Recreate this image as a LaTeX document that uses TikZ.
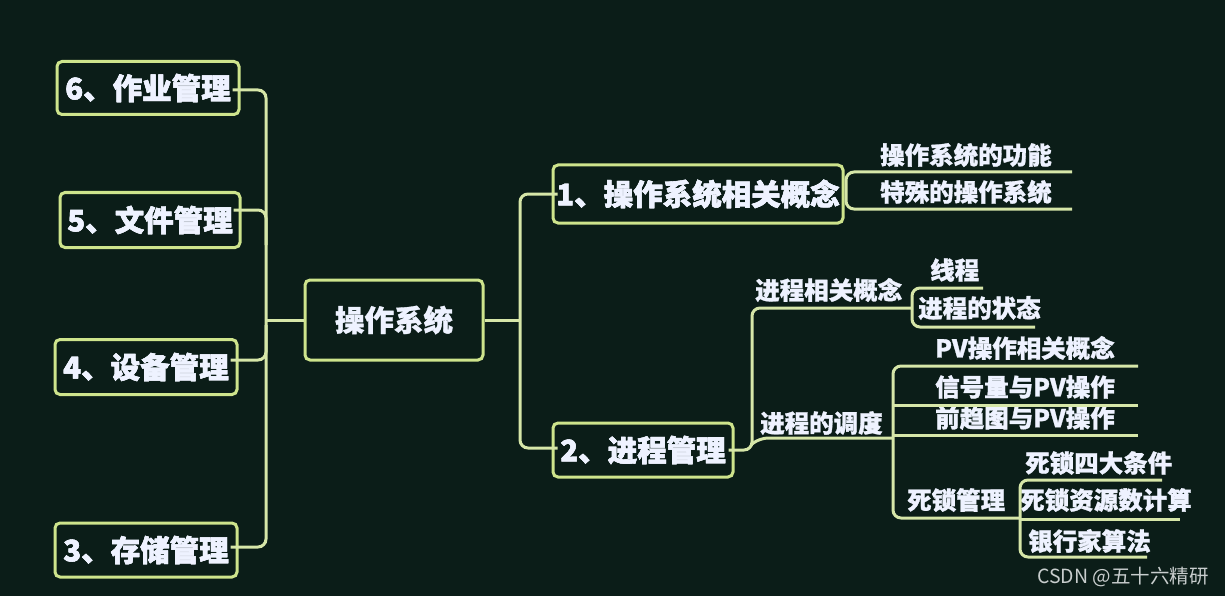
\documentclass[tikz,border=0pt]{standalone}
\usepackage{fontspec}
\newfontfamily\cjk{Noto Sans CJK SC}[BoldFeatures={FakeBold=1.2}]
\definecolor{bg}{RGB}{11,29,24}
\definecolor{edge}{RGB}{206,228,140}
\definecolor{wire}{RGB}{214,230,168}
\definecolor{txt}{RGB}{238,242,255}
\definecolor{mark}{RGB}{200,205,205}
\begin{document}
\begin{tikzpicture}[x=1pt,y=-1pt,
  boxnode/.style={draw=edge,line width=3pt,rounded corners=5pt,fill=bg,text=txt,
    font=\cjk\bfseries\fontsize{29.5}{31}\selectfont,inner sep=0pt,align=center},
  leaf/.style={text=txt,font=\cjk\bfseries\fontsize{24.5}{26}\selectfont,inner sep=0pt,anchor=west},
  wirel/.style={draw=wire,line width=3pt,rounded corners=8pt}]
\fill[bg] (0,0) rectangle (1225,596);
\useasboundingbox (0,0) rectangle (1225,596);

% junction coordinates
\coordinate (lt) at (266,320);
\coordinate (rt) at (520,320);

% left boxes
\node[boxnode,minimum width=182pt,minimum height=53pt] (b6) at (148,88) {6、作业管理};
\node[boxnode,minimum width=180pt,minimum height=55pt] (b5) at (150,220) {5、文件管理};
\node[boxnode,minimum width=182pt,minimum height=55pt] (b4) at (146,367) {4、设备管理};
\node[boxnode,minimum width=182pt,minimum height=54pt] (b3) at (146,550) {3、存储管理};
\node[boxnode,minimum width=178pt,minimum height=80pt] (main) at (394,320) {操作系统};
\node[boxnode,minimum width=290pt,minimum height=58pt] (o1) at (698,194) {1、操作系统相关概念};
\node[boxnode,minimum width=180pt,minimum height=54pt] (o2) at (643,450) {2、进程管理};

% left trunk
\draw[wirel] ([xshift=-8pt]b6.east |- 0,90) -- (266,90) -- (266,547) -- ([xshift=-8pt]b3.east |- 0,547);
\draw[wirel] ([xshift=-8pt]b5.east |- 0,210) -- (266,210) -- (266,245);
\draw[wirel] ([xshift=-8pt]b4.east |- 0,360) -- (266,360) -- (266,325);
\draw[wirel] (lt) -- (main.west);
% right trunk
\draw[wirel] (main.east) -- (rt);
\draw[wirel] ([xshift=6pt]o1.west) -- (520,194) -- (520,448) -- ([xshift=6pt]o2.west |- 0,448);

% branch of 1
\node[leaf] (f1) at (880,155) {操作系统的功能};
\node[leaf] (f2) at (880,192) {特殊的操作系统};
\coordinate (f1e) at (1072,172);
\coordinate (f2e) at (1072,209);
\draw[wirel] (f1e) -- (846,172) -- (846,209) -- (f2e);

% branch of 2
\node[leaf] (p1) at (755,290) {进程相关概念};
\node[leaf] (p2) at (760,423) {进程的调度};
\coordinate (p1e) at (912,308);
\coordinate (p2e) at (893,438);
\draw[wirel] (p1e) -- (752,308) -- (752,450) -- ([xshift=-6pt]o2.east |- 0,450);
\draw[wirel] (752,444) -- (760,438) -- (p2e);

% 进程相关概念 children
\node[leaf] (t1) at (930,270) {线程};
\node[leaf] (t2) at (918,308) {进程的状态};
\coordinate (t1e) at (983,288);
\coordinate (t2e) at (1035,327);
\draw[wirel] (t1e) -- (912,288) -- (912,327) -- (t2e);

% 进程的调度 children
\node[leaf] (s1) at (935,348) {PV操作相关概念};
\node[leaf] (s2) at (935,387) {信号量与PV操作};
\node[leaf] (s3) at (935,418) {前趋图与PV操作};
\node[leaf] (s4) at (907,500) {死锁管理};
\coordinate (s1e) at (1138,366);
\coordinate (s2e) at (1138,405);
\coordinate (s3e) at (1138,435);
\coordinate (s4e) at (1020,518);
\draw[wirel] (s1e) -- (893,366) -- (893,518) -- (s4e);
\draw[wirel] (893,405) -- (s2e);
\draw[wirel] (893,435) -- (s3e);

% 死锁管理 children
\node[leaf] (d1) at (1025,463) {死锁四大条件};
\node[leaf] (d2) at (1020,500) {死锁资源数计算};
\node[leaf] (d3) at (1028,541) {银行家算法};
\coordinate (d1e) at (1162,480);
\coordinate (d2e) at (1180,519);
\coordinate (d3e) at (1147,557);
\draw[wirel] (d1e) -- (1020,480) -- (1020,557) -- (d3e);
\draw[wirel] (1020,519) -- (d2e);

% redraw box texts over the wires
\foreach \n/\t in {b6/6、作业管理,b5/5、文件管理,b4/4、设备管理,b3/3、存储管理,o1/1、操作系统相关概念,o2/2、进程管理}
  \node[text=txt,font=\cjk\bfseries\fontsize{29.5}{31}\selectfont,inner sep=0pt] at (\n) {\t};

% watermark
\node[anchor=west,inner sep=0pt,text=mark,font=\cjk\fontsize{19.5}{21}\selectfont] (wm) at (1037,577) {CSDN @五十六精研};
\end{tikzpicture}
\end{document}
